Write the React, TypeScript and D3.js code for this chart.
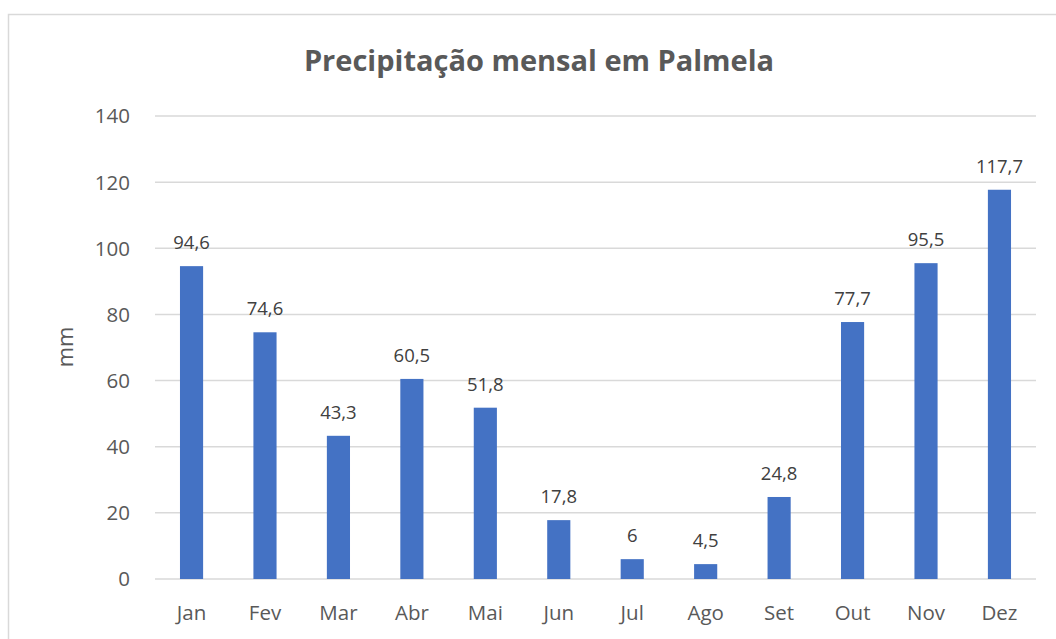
import React, { useEffect, useRef } from "react";
import * as d3 from "d3";

const months = ["Jan", "Fev", "Mar", "Abr", "Mai", "Jun", "Jul", "Ago", "Set", "Out", "Nov", "Dez"];
const rainfall = [94.6, 74.6, 43.3, 60.5, 51.8, 17.8, 6, 4.5, 24.8, 77.7, 95.5, 117.7];
const yTicks = [0, 20, 40, 60, 80, 100, 120, 140];

const W = 1056;
const H = 639;
const font = "'Open Sans', 'Noto Sans', sans-serif";

export default function App() {
  const ref = useRef<SVGSVGElement>(null);

  useEffect(() => {
    const svg = d3.select(ref.current);
    svg.selectAll("*").remove();

    const margin = { top: 116, left: 155 };
    const plotRight = 1036;
    const plotBottom = 579;

    // frame
    svg.append("rect")
      .attr("x", 8.5).attr("y", 14.5)
      .attr("width", W + 20).attr("height", H + 20)
      .attr("fill", "white")
      .attr("stroke", "#d9d9d9")
      .attr("stroke-width", 1.5);

    const x = d3.scaleBand()
      .domain(months)
      .range([margin.left, plotRight])
      .paddingInner(0.685)
      .paddingOuter(0.34);

    const y = d3.scaleLinear()
      .domain([0, 140])
      .range([plotBottom, margin.top]);

    // gridlines
    svg.append("g")
      .selectAll("line")
      .data(yTicks)
      .enter().append("line")
      .attr("x1", margin.left).attr("x2", plotRight)
      .attr("y1", d => y(d)).attr("y2", d => y(d))
      .attr("stroke", "#d9d9d9")
      .attr("stroke-width", 1.5);

    // y tick labels
    svg.append("g")
      .selectAll("text")
      .data(yTicks)
      .enter().append("text")
      .attr("x", 130)
      .attr("y", d => y(d))
      .attr("dy", "0.36em")
      .attr("text-anchor", "end")
      .style("font-family", font)
      .style("font-size", "20.5px")
      .style("fill", "#595959")
      .text(d => d);

    // bars
    svg.append("g")
      .selectAll("rect")
      .data(months)
      .enter().append("rect")
      .attr("x", d => x(d)!)
      .attr("width", x.bandwidth())
      .attr("y", (d, i) => y(rainfall[i]))
      .attr("height", (d, i) => plotBottom - y(rainfall[i]))
      .attr("fill", "#4472c4");

    // data labels
    svg.append("g")
      .selectAll("text")
      .data(months)
      .enter().append("text")
      .attr("x", d => x(d)! + x.bandwidth() / 2)
      .attr("y", (d, i) => y(rainfall[i]) - 17)
      .attr("text-anchor", "middle")
      .style("font-family", font)
      .style("font-size", "18.5px")
      .style("fill", "#404040")
      .text((d, i) => String(rainfall[i]).replace(".", ","));

    // x labels
    svg.append("g")
      .selectAll("text")
      .data(months)
      .enter().append("text")
      .attr("x", d => x(d)! + x.bandwidth() / 2)
      .attr("y", 620)
      .attr("text-anchor", "middle")
      .style("font-family", font)
      .style("font-size", "20.5px")
      .style("fill", "#595959")
      .text(d => d);

    // y axis title
    svg.append("text")
      .attr("transform", "translate(73,347) rotate(-90)")
      .attr("text-anchor", "middle")
      .style("font-family", font)
      .style("font-size", "22px")
      .style("fill", "#595959")
      .text("mm");

    // title
    svg.append("text")
      .attr("x", 539)
      .attr("y", 71)
      .attr("text-anchor", "middle")
      .style("font-family", font)
      .style("font-size", "29px")
      .style("font-weight", "bold")
      .style("fill", "#595959")
      .text("Precipitação mensal em Palmela");
  }, []);

  return (
    <svg ref={ref} width={W} height={H}
      style={{ position: "absolute", left: 0, top: 0, background: "white" }} />
  );
}
